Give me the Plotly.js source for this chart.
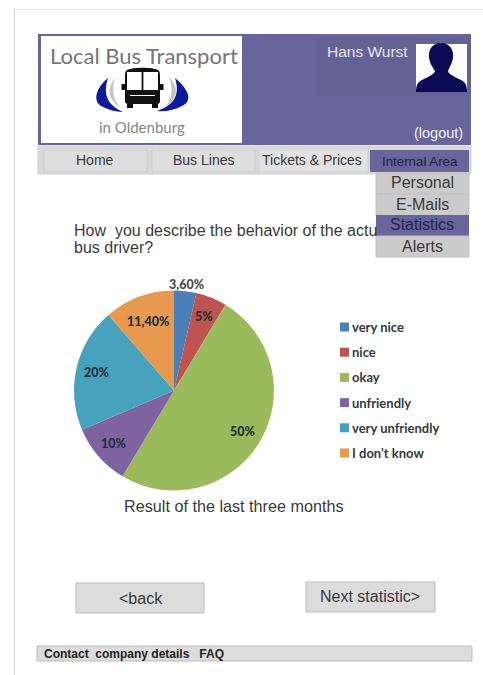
<!DOCTYPE html>
<html>
<head>
<meta charset="utf-8">
<title>Statistics</title>
<script src="https://cdn.plot.ly/plotly-3.0.1.min.js"></script>
<style>html,body{margin:0;padding:0;background:#fff}#page{width:483px;height:675px}</style>
</head>
<body>
<div id="page"></div>
<script>
// Survey result
const categories = ["very nice", "nice", "okay", "unfriendly", "very unfriendly", "I don't know"];
const shares = [3.6, 5, 50, 10, 20, 11.4];
const shareLabels = ["3,60%", "5%", "50%", "10%", "20%", "11,40%"];
const sliceColors = ["#4a7fb8", "#bd5450", "#9aba5b", "#7f62a0", "#47a3bd", "#e6994f"];

// Page wording
const navItems = ["Home", "Bus Lines", "Tickets & Prices", "Internal Area"];
const menuItems = ["Personal", "E-Mails", "Statistics", "Alerts"];
const questionLines = ["How  you describe the behavior of the actu", "bus driver?"];
const footerText = "Contact  company details   FAQ";

const W = 483, H = 675;
const SANS = '"Liberation Sans", Arial, sans-serif';
const LABEL = 'Lato, "Open Sans", sans-serif';
const PURPLE = "#67659b", GREY = "#dcdcdc", EDGE = "#bdbdbd", INK = "#3a3a3a";

const px = x => x / W, py = y => 1 - y / H;

function rect(x0, y0, x1, y1, fill, line, lw) {
  return {type: "rect", xref: "paper", yref: "paper", x0: px(x0), x1: px(x1), y0: py(y1), y1: py(y0),
    fillcolor: fill, line: {color: line || fill, width: lw === undefined ? (line ? 1 : 0) : lw}, layer: "below"};
}
// Path given in page pixels, converted to paper fractions pair by pair
function shapePath(d, fill) {
  let i = 0;
  const conv = d.replace(/-?\d+(\.\d+)?/g, n => (i++ % 2 === 0 ? px(+n) : py(+n)).toFixed(5));
  return {type: "path", xref: "paper", yref: "paper", path: conv, fillcolor: fill, line: {width: 0}, layer: "below"};
}
function label(x, y, text, size, color, opts) {
  return Object.assign({xref: "paper", yref: "paper", x: px(x), y: py(y), text, showarrow: false,
    font: {family: SANS, size, color}, xanchor: "center", yanchor: "middle", borderpad: 0}, opts || {});
}

const shapes = [
  // sheet edges
  rect(14, 9, 483, 9.6, "#d2d2d2"),
  rect(14, 9, 14.8, 675, "#c8c8c8"),
  // header band
  rect(38, 34, 471, 145, PURPLE),
  rect(317, 36, 471, 96, "#646295"),
  rect(41, 36, 242, 143, "#ffffff"),
  // avatar
  rect(416, 44, 467, 92, "#ffffff"),
  shapePath("M441 43 C450 43 454 50 453 58 C452 64 449 68 448 71 C449 75 456 77 461 80 C465 82 467 85 467 92 L416 92 C416 85 418 82 422 80 C427 77 434 75 435 71 C433 68 430 64 429 58 C428 50 432 43 441 43 Z", "#0a0a55"),
  // logo swooshes
  shapePath("M108 78 C97 87 92 100 101 106 C108 110 116 112 123 112 C113 107 101 100 108 78 Z", "#0d1a9c"),
  shapePath("M175 78 C186 87 195 100 182 106 C175 110 165 112 157 111 C168 107 182 100 175 78 Z", "#0d1a9c"),
  shapePath("M115 78 C108 86 106 98 120 107 C112 98 112 88 115 78 Z", "#c4c4c4"),
  shapePath("M169 77 C177 85 181 97 165 107 C173 98 173 87 169 77 Z", "#c4c4c4"),
  // logo bus
  shapePath("M127 70 C133 67 152 67 158 70 C160 71 160 74 160 78 L160 101 C160 103 159 104 157 104 L128 104 C126 104 125 103 125 101 L125 78 C125 74 125 71 127 70 Z", "#111111"),
  rect(127, 72, 141.6, 90, "#ffffff"),
  rect(143.4, 72, 158, 90, "#ffffff"),
  rect(130, 95, 155, 96, "#ffffff"),
  rect(127, 104, 133, 108, "#111111"),
  rect(152, 104, 158, 108, "#111111"),
  rect(121.5, 84, 125, 90, "#111111"),
  rect(160, 84, 163.5, 90, "#111111"),
  // navigation bar
  rect(38, 146, 471, 174, "#d9d9d9", "#d0d0d0"),
  rect(44, 150, 147, 172, "#dedede", "#cdcdcd"),
  rect(152, 150, 255, 172, "#dedede", "#cdcdcd"),
  rect(259, 150, 368, 172, "#e2e2e2", "#d4d4d4"),
  rect(370, 150, 469, 172, PURPLE),
  // drop-down menu
  rect(376, 173, 469, 194, "#cbcbcb", "#c2c2c2"),
  rect(376, 194, 469, 215, "#cbcbcb", "#c2c2c2"),
  rect(376, 215, 469, 236, PURPLE),
  rect(376, 236, 469, 257, "#cbcbcb", "#c2c2c2"),
  // buttons and footer
  rect(76, 583, 204, 613, GREY, EDGE),
  rect(306, 582, 435, 612, GREY, EDGE),
  rect(37, 646, 472, 661, GREY, EDGE)
];

const annotations = [
  label(144, 55, "Local Bus Transport", 22, "#757575", {font: {family: LABEL, size: 22, color: "#757575"}}),
  label(142, 127, "in Oldenburg", 15, "#858585", {font: {family: LABEL, size: 15, color: "#858585"}}),
  label(367.5, 52, "Hans Wurst", 15.5, "#e4e4ee"),
  label(438, 133, "(logout)", 14.5, "#f0f0f5"),
  label(95, 160, navItems[0], 14, INK),
  label(203, 160, navItems[1], 14, INK),
  label(312, 160, navItems[2], 14, INK),
  label(419.5, 161, navItems[3], 13.3, "#1f1f3a"),
  label(422, 183, menuItems[0], 16, INK),
  label(422, 204.5, menuItems[1], 16, INK),
  label(422, 225, menuItems[2], 16, "#24244a"),
  label(422, 246, menuItems[3], 16, INK),
  label(73, 230.5, questionLines[0], 16, INK, {xanchor: "left"}),
  label(73, 247, questionLines[1], 16, INK, {xanchor: "left"}),
  label(234, 506, "Result of the last three months", 16.2, INK),
  label(140.5, 598, "&lt;back", 16, INK),
  label(370, 596, "Next statistic&gt;", 16, INK),
  label(43, 653.5, footerText, 12, "#222222", {xanchor: "left", font: {family: SANS, size: 12, color: "#222222", weight: 700}})
];

// Pie geometry on the page
const cx = 174, cy = 390.5, radius = 100;

// Value labels sit along each slice's middle angle
const labelReach = [107, 80, 80, 80, 80, 74];
const total = shares.reduce((a, b) => a + b, 0);
let running = 0;
shares.forEach((v, i) => {
  const mid = (running + v / 2) / total * 2 * Math.PI;
  running += v;
  annotations.push(label(cx + Math.sin(mid) * labelReach[i], cy - Math.cos(mid) * labelReach[i], shareLabels[i], 12.5, "#2f3640",
    {font: {family: LABEL, size: 12.5, color: i === 0 ? "#4a4a4a" : "#22303a", weight: 900}}));
});

// Key to the slices
const keyX = 340, keyTop = 327, keyStep = 25.2;
categories.forEach((c, i) => {
  const y = keyTop + i * keyStep;
  shapes.push(rect(keyX, y - 4.5, keyX + 9, y + 4.5, sliceColors[i]));
  annotations.push(label(keyX + 11, y, c, 13, "#33393f",
    {xanchor: "left", font: {family: LABEL, size: 13, color: "#33393f", weight: 700}}));
});

const pie = {
  type: "pie",
  labels: categories,
  values: shares,
  sort: false,
  direction: "clockwise",
  rotation: 0,
  textinfo: "none",
  hoverinfo: "label+percent",
  marker: {colors: sliceColors, line: {width: 0}},
  domain: {x: [px(cx - radius), px(cx + radius)], y: [py(cy + radius), py(cy - radius)]}
};

Plotly.newPlot("page", [pie], {
  width: W, height: H,
  margin: {l: 0, r: 0, t: 0, b: 0},
  paper_bgcolor: "#ffffff",
  showlegend: false,
  shapes, annotations
}, {displayModeBar: false});
</script>
</body>
</html>
